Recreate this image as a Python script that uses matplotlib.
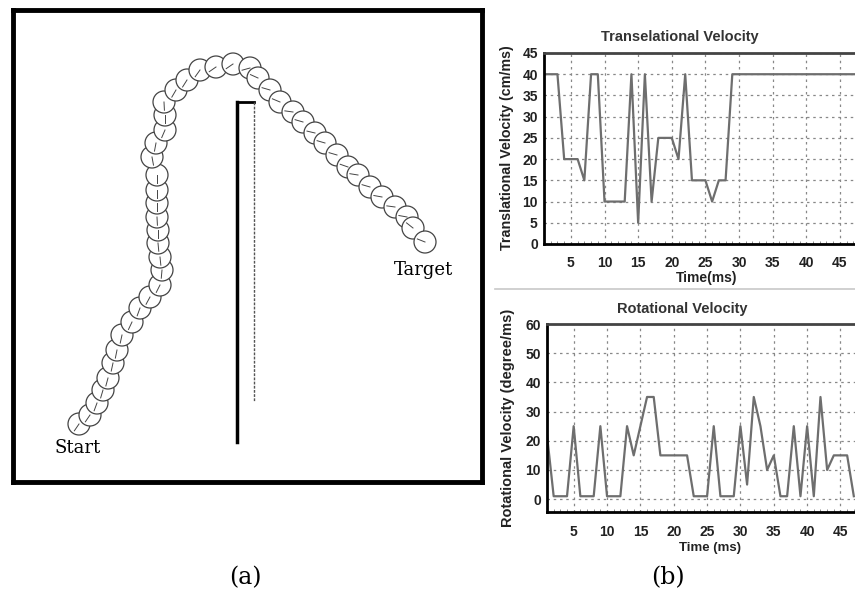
import matplotlib.pyplot as plt
from matplotlib.patches import Circle
import numpy as np

# (a) robot path, arena pixel coords (y grows downward)
path_x = [79, 90, 97, 103, 108, 113, 117, 122, 132, 140, 150, 160, 162, 160, 158, 158,
          157, 157, 157, 157, 152, 156, 165, 165, 164, 176, 187, 200, 216, 233, 250, 258,
          270, 280, 293, 303, 315, 325, 337, 348, 358, 370, 382, 395, 407, 413, 425]
path_y = [424, 415, 403, 390, 378, 363, 350, 335, 322, 308, 297, 285, 270, 257, 243, 230,
          217, 203, 190, 175, 157, 143, 130, 115, 102, 90, 80, 70, 67, 64, 68, 78,
          90, 102, 112, 122, 133, 143, 155, 167, 175, 187, 197, 207, 217, 228, 242]

# (b) velocity profiles
time_t = list(range(1, 51))
trans_vel = [40, 40, 40, 20, 20, 20, 15, 40, 40, 10, 10, 10, 10, 40, 5, 40, 10, 25, 25, 25,
             20, 40, 15, 15, 15, 10, 15, 15, 40, 40, 40, 40, 40, 40, 40, 40, 40, 40, 40, 40,
             40, 40, 40, 40, 40, 40, 40, 40, 40, 40]
time_r = list(range(1, 48))
rot_vel = [22, 1, 1, 1, 25, 1, 1, 1, 25, 1, 1, 1, 25, 15, 25, 35, 35, 15, 15, 15,
           15, 15, 1, 1, 1, 25, 1, 1, 1, 25, 5, 35, 25, 10, 15, 1, 1, 25, 1, 25,
           1, 35, 10, 15, 15, 15, 1]

W, H = 855, 599
fig = plt.figure(figsize=(W / 100, H / 100), dpi=100)


def box(l, t, r, b):
    return [l / W, 1 - b / H, (r - l) / W, (b - t) / H]


# ---- panel (a)
ax = fig.add_axes(box(13, 10, 482, 482))
ax.set_xlim(13, 482)
ax.set_ylim(482, 10)
ax.set_xticks([])
ax.set_yticks([])
for s in ax.spines.values():
    s.set_linewidth(3.5)

# wall
ax.plot([237, 237], [102, 442], color='black', lw=2.5)
ax.plot([237, 254], [102, 102], color='black', lw=2)
ax.plot([254, 254], [102, 402], color='#555555', lw=1, ls=(0, (2, 1)))

r = 11
for i in range(len(path_x)):
    cx, cy = path_x[i], path_y[i]
    z = 3 + i * 0.01
    ax.add_patch(Circle((cx, cy), r, facecolor='white', edgecolor='#444444', lw=0.9, zorder=z))
    if i > 0:
        dx, dy = path_x[i - 1] - cx, path_y[i - 1] - cy
    else:
        dx, dy = cx - path_x[1], cy - path_y[1]
    n = np.hypot(dx, dy)
    dx, dy = dx / n, dy / n + 0.5
    n = np.hypot(dx, dy)
    ax.plot([cx, cx + 0.75 * r * dx / n], [cy, cy + 0.75 * r * dy / n],
            color='#444444', lw=0.7, zorder=z + 0.005)

ax.text(78, 448, 'Start', family='DejaVu Serif', fontsize=13, ha='center', va='center')
ax.text(423, 270, 'Target', family='DejaVu Serif', fontsize=13, ha='center', va='center')

fig.text(245 / W, 1 - 578 / H, '(a)', family='DejaVu Serif', fontsize=17, ha='center', va='center')
fig.text(668 / W, 1 - 578 / H, '(b)', family='DejaVu Serif', fontsize=17, ha='center', va='center')

# ---- panel (b)
plt.rcParams['font.family'] = ['Liberation Sans', 'DejaVu Sans']


def style(ax, xlim, ylim, yticks):
    ax.set_xlim(*xlim)
    ax.set_ylim(*ylim)
    ax.set_xticks(range(5, 50, 5))
    ax.set_xticks(range(1, 50), minor=True)
    ax.set_yticks(yticks)
    ax.grid(True, which='major', color='#888888', ls=(0, (2, 3)), lw=0.9)
    ax.tick_params(axis='x', which='major', length=0, labelsize=10, pad=9)
    ax.tick_params(axis='x', which='minor', length=2, direction='in', color='#777777')
    ax.tick_params(axis='y', length=0, labelsize=10, pad=4.5)
    for lab in ax.get_xticklabels() + ax.get_yticklabels():
        lab.set_fontweight('bold')
        lab.set_color('#222222')
    ax.spines['left'].set_linewidth(2)
    ax.spines['bottom'].set_linewidth(2)
    ax.spines['top'].set_linewidth(2)
    ax.spines['top'].set_color('#444444')
    ax.spines['right'].set_visible(False)


# translational
ax1 = fig.add_axes(box(544, 53, 544 + 49 * 6.725, 244))
ax1.plot(time_t, trans_vel, color='#6e6e6e', lw=1.6)
style(ax1, (1, 50), (0, 45), range(0, 46, 5))
fig.text(680 / W, 1 - 37 / H, 'Transelational Velocity', fontsize=10.5, fontweight='bold',
         color='#333333', ha='center', va='center')
fig.text(707 / W, 1 - 278 / H, 'Time(ms)', fontsize=10, fontweight='bold',
         color='#222222', ha='center', va='center')
fig.text(507 / W, 1 - 148 / H, 'Translational Velocity (cm/ms)', fontsize=10.3, fontweight='bold',
         color='#222222', ha='center', va='center', rotation=90)

# separator
fig.add_artist(plt.Line2D([495 / W, 1], [1 - 289 / H, 1 - 289 / H], color='#c8c8c8', lw=1.2))

# rotational
ax2 = fig.add_axes(box(547, 324, 547 + 49 * 6.67, 512))
ax2.plot(time_r, rot_vel, color='#6e6e6e', lw=1.6)
style(ax2, (1, 50), (-4.4, 60), range(0, 61, 10))
fig.text(682 / W, 1 - 309 / H, 'Rotational Velocity', fontsize=10.5, fontweight='bold',
         color='#333333', ha='center', va='center')
fig.text(710 / W, 1 - 548 / H, 'Time (ms)', fontsize=9.5, fontweight='bold',
         color='#222222', ha='center', va='center')
fig.text(508 / W, 1 - 418 / H, 'Rotational Velocity (degree/ms)', fontsize=10.5, fontweight='bold',
         color='#222222', ha='center', va='center', rotation=90)

fig.savefig('out.png', dpi=100)
